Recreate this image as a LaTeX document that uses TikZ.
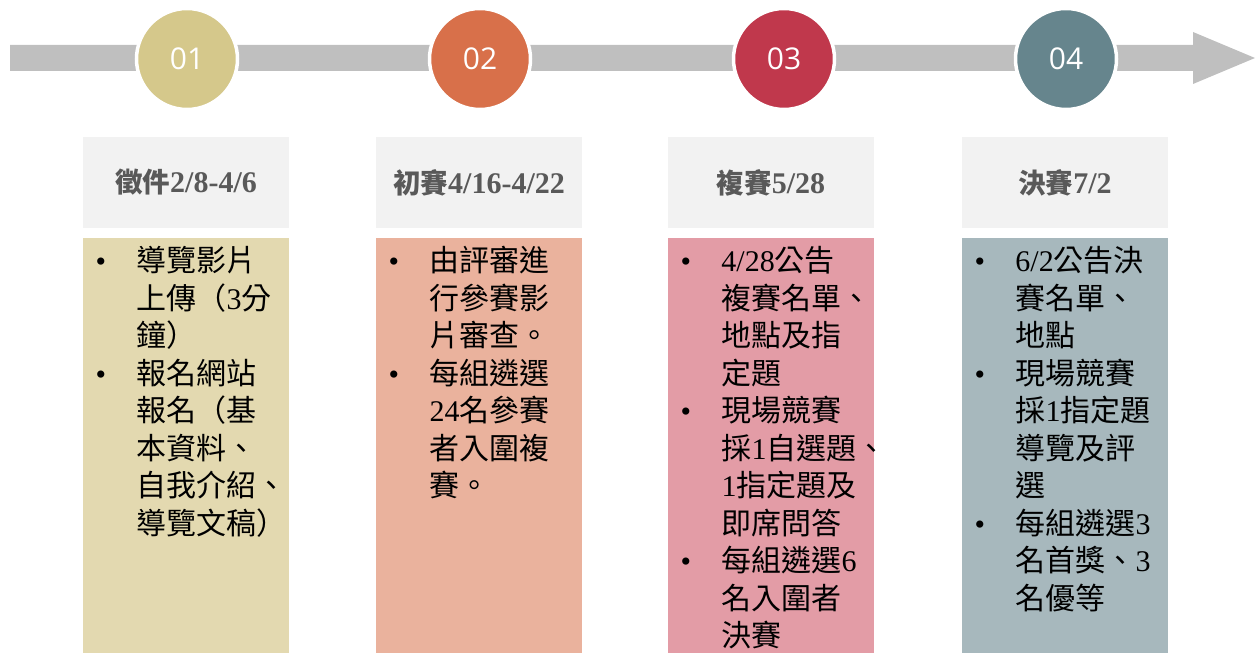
\documentclass[tikz,border=0pt]{standalone}
\usepackage{fontspec}
\usepackage{tikz}
\usetikzlibrary{positioning}
\setmainfont{Liberation Serif}
\newfontfamily\zhfont{Noto Sans CJK TC}
\newfontfamily\numfont{Open Sans}

% CJK characters switch to the CJK font automatically
\newcommand{\zhon}{\zhfont}
\newcommand{\zhoff}{\rmfamily}
\newXeTeXintercharclass\zhclass
\newcount\zhc
\newcommand{\zhrange}[2]{%
  \zhc=#1
  \loop \XeTeXcharclass\zhc=\zhclass
  \ifnum\zhc<#2 \advance\zhc by 1 \repeat}
\zhrange{"3000}{"30FF}
\zhrange{"4E00}{"9FFF}
\zhrange{"FF00}{"FFEF}
\XeTeXinterchartoks 0 \zhclass = {\zhon}
\XeTeXinterchartoks 4095 \zhclass = {\zhon}
\XeTeXinterchartoks \zhclass 0 = {\zhoff}
\XeTeXinterchartokenstate=1

\definecolor{bargray}{HTML}{BFBFBF}
\definecolor{headgray}{HTML}{F2F2F2}
\definecolor{headtext}{HTML}{595959}
\definecolor{gold}{HTML}{D5C88B}
\definecolor{goldlight}{HTML}{E3D9B0}
\definecolor{orange}{HTML}{D8704A}
\definecolor{orangelight}{HTML}{EAB29D}
\definecolor{crimson}{HTML}{C0384C}
\definecolor{crimsonlight}{HTML}{E39CA6}
\definecolor{slate}{HTML}{66858D}
\definecolor{slatelight}{HTML}{A7B8BD}

\newcommand{\itm}{\makebox[41pt][l]{\textbullet}}
\newcommand{\ind}{\hspace*{41pt}}
\newcommand{\headfont}{\bfseries\fontsize{30}{30}\selectfont
  \renewcommand{\zhon}{\zhfont\fontsize{27.5}{27.5}\selectfont}%
  \renewcommand{\zhoff}{\rmfamily\fontsize{30}{30}\selectfont}}

\begin{document}
\begin{tikzpicture}[x=1pt,y=1pt,
    stage/.style={circle, draw=white, line width=3.5pt, minimum size=101pt, inner sep=0pt,
      text=white, font=\numfont\fontsize{30}{30}\selectfont},
    head/.style={rectangle, fill=headgray, minimum width=206pt, minimum height=91pt,
      inner sep=0pt, text=headtext, font=\headfont},
    panel/.style={rectangle, minimum width=206pt, minimum height=415pt, inner sep=0pt},
    list/.style={anchor=north west, align=left, inner sep=0pt,
      font=\fontsize{30}{37.5}\selectfont}]
  \useasboundingbox (0,0) rectangle (1259,653);

  % timeline arrow
  \fill[bargray] (10,582) -- (1193,582) -- (1193,569) -- (1255,595)
    -- (1193,621) -- (1193,608) -- (10,608) -- cycle;

  \node[stage, fill=gold] (s1) at (187,594) {01};
  \node[stage, fill=orange] (s2) at (480,594) {02};
  \node[stage, fill=crimson] (s3) at (784,594) {03};
  \node[stage, fill=slate] (s4) at (1066,594) {04};

  % stage titles
  \node[head] (h1) at (186,470.5) {徵件2/8-4/6};
  \node[head] (h2) at (479,470.5) {初賽4/16-4/22};
  \node[head] (h3) at (771,470.5) {複賽5/28};
  \node[head] (h4) at (1065,470.5) {決賽7/2};

  \node[panel, fill=goldlight, below=10 of h1] (p1) {};
  \node[panel, fill=orangelight, below=10 of h2] (p2) {};
  \node[panel, fill=crimsonlight, below=10 of h3] (p3) {};
  \node[panel, fill=slatelight, below=10 of h4] (p4) {};

  % stage details
  \node[list] (t1) at ([xshift=12.5,yshift=-8]p1.north west) {\itm 導覽影片\\
    \ind 上傳（3分\\ \ind 鐘）\\ \itm 報名網站\\ \ind 報名（基\\
    \ind 本資料、\\ \ind 自我介紹、\\ \ind 導覽文稿）};
  \node[list] (t2) at ([xshift=12.5,yshift=-8]p2.north west) {\itm 由評審進\\
    \ind 行參賽影\\ \ind 片審查。\\ \itm 每組遴選\\ \ind 24名參賽\\
    \ind 者入圍複\\ \ind 賽。};
  \node[list] (t3) at ([xshift=12.5,yshift=-8]p3.north west) {\itm 4/28公告\\
    \ind 複賽名單、\\ \ind 地點及指\\ \ind 定題\\ \itm 現場競賽\\
    \ind 採1自選題、\\ \ind 1指定題及\\ \ind 即席問答\\ \itm 每組遴選6\\
    \ind 名入圍者\\ \ind 決賽};
  \node[list] (t4) at ([xshift=12.5,yshift=-8]p4.north west) {\itm 6/2公告決\\
    \ind 賽名單、\\ \ind 地點\\ \itm 現場競賽\\ \ind 採1指定題\\
    \ind 導覽及評\\ \ind 選\\ \itm 每組遴選3\\ \ind 名首獎、3\\ \ind 名優等};
\end{tikzpicture}
\end{document}
